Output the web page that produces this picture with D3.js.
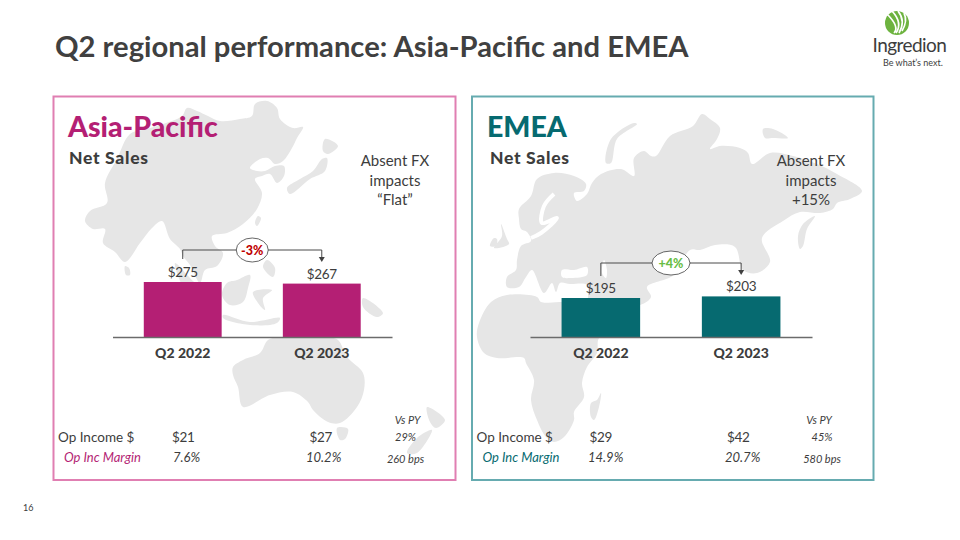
<!DOCTYPE html>
<html><head><meta charset="utf-8">
<script src="https://cdn.jsdelivr.net/npm/d3@7"></script>
<style>
html,body{margin:0;padding:0;background:#fff}
svg{display:block}
text{font-family:Lato,"Open Sans",sans-serif;fill:#3d3d3d}
</style></head><body>
<script>
// ---- data ----
const quarters = ["Q2 2022","Q2 2023"];
const apacSales = [275,267];
const emeaSales = [195,203];
const apacChange = "-3%";
const emeaChange = "+4%";
const apacFx = ["Absent FX","impacts","“Flat”"];
const emeaFx = ["Absent FX","impacts","+15%"];
const apacIncome = ["$21","$27","29%"];
const emeaIncome = ["$29","$42","45%"];
const apacMargin = ["7.6%","10.2%","260 bps"];
const emeaMargin = ["14.9%","20.7%","580 bps"];

// ---- decorative map outlines (background artwork, not data) ----
const apacLand = [
 [[105,183],[117,159],[130,134],[147,129],[163,124],[182,116],[187,108],[197,111],[208,116],[220,121],[240,119],[252,116],[255,104],[267,101],[277,108],[280,119],[293,128],[303,127],[297,138],[292,148],[283,161],[275,164],[268,158],[260,159],[250,168],[257,171],[265,171],[275,166],[284,166],[284,176],[277,183],[270,174],[262,176],[255,179],[262,193],[257,209],[243,224],[227,233],[212,236],[215,246],[223,253],[217,266],[205,270],[200,283],[190,265],[183,256],[180,249],[170,239],[162,221],[152,228],[140,243],[125,262],[115,252],[103,243],[105,229],[93,229],[85,221],[90,211],[107,203]],
 [[233,367],[243,360],[260,353],[268,340],[283,337],[325,337],[338,340],[347,357],[363,373],[364,390],[357,407],[340,423],[328,422],[313,410],[308,402],[293,392],[270,395],[243,407],[238,387],[233,375]],
 [[337,428],[348,429],[345,439],[340,440]],
 [[427,407],[445,420],[436,428],[430,422]],
 [[432,430],[417,453],[407,453],[417,438]],
 [[325,139],[338,146],[328,154],[323,151]],
 [[327,158],[325,171],[310,179],[290,194],[287,188],[300,179],[313,171],[322,159]],
 [[258,216],[261,218],[257,226],[255,223]],
 [[250,275],[248,288],[243,302],[230,305],[222,295],[227,283],[237,280]],
 [[253,292],[272,290],[263,298],[265,310],[258,303]],
 [[223,315],[250,322],[280,318],[277,323],[250,325],[223,318]],
 [[267,260],[275,268],[273,277],[263,267]],
 [[175,263],[190,278],[212,302],[205,305],[185,290]],
 [[363,298],[383,313],[377,317],[363,307]],
 [[125,266],[129,268],[130,275],[126,275]]
];
const emeaLand = [
 [[519,219],[519,209],[531,196],[537,179],[554,173],[574,176],[586,184],[584,191],[574,193],[577,201],[587,194],[592,183],[601,174],[621,169],[634,176],[634,158],[644,151],[651,156],[656,156],[670,136],[693,126],[702,114],[710,119],[720,128],[717,139],[710,149],[720,146],[740,148],[748,153],[752,164],[770,153],[793,156],[817,164],[837,174],[862,191],[850,199],[837,203],[833,209],[820,213],[800,212],[783,221],[762,238],[770,262],[757,273],[743,270],[735,247],[715,245],[700,250],[690,250],[674,275],[647,287],[651,297],[640,305],[590,305],[587,285],[570,284],[560,283],[556,292],[552,283],[544,293],[532,270],[526,277],[519,287],[507,287],[507,277],[516,270],[517,260],[521,246],[531,241],[527,232],[521,229]],
 [[477,337],[479,323],[491,302],[507,295],[537,297],[541,302],[561,302],[610,305],[620,325],[599,338],[597,353],[587,367],[582,383],[584,397],[574,412],[574,420],[564,437],[554,442],[546,437],[537,420],[531,400],[534,380],[526,363],[524,358],[497,358],[484,353]],
 [[601,393],[599,407],[594,420],[591,417],[591,403],[597,400]],
 [[501,224],[507,239],[509,244],[494,248],[502,236]],
 [[494,238],[497,239],[496,246],[490,246]],
 [[634,123],[637,124],[617,139],[611,163],[606,163],[611,139]],
 [[763,129],[773,129],[788,138],[773,138],[765,138]],
 [[815,216],[807,229],[803,246],[800,249],[798,236],[803,224]]
];
const emeaSeas = [
 [[562,270],[574,270],[587,267],[587,275],[571,278],[562,277]],
 [[604,260],[607,270],[606,278],[602,273]]
];
const emeaBaltic = [[554,194],[544,206],[542,223],[557,218],[541,233],[531,238]];

const W=960,H=540;
const svg=d3.select("body").append("svg").attr("width",W).attr("height",H);

// title
svg.append("text").attr("x",55).attr("y",57).attr("font-size",29.2).attr("font-weight",700)
 .style("fill","#404040").text("Q2 regional performance: Asia-Pacific and EMEA");

// page number
svg.append("text").attr("x",23).attr("y",511).attr("font-size",9).text("16");

// logo
const logo=svg.append("g").attr("transform","translate(897,23)");
logo.append("circle").attr("r",12).style("fill","#6db33f");
[[-10,-9,3,4,-3,10],[-5,-12,6,0,-1,10],[1,-12,9,-2,2,10],[7,-10,11,-2,5,8]].forEach(a=>{
 logo.append("path").attr("d",`M${a[0]},${a[1]}Q${a[2]},${a[3]} ${a[4]},${a[5]}`)
  .attr("fill","none").attr("stroke","#fff").attr("stroke-width",1.7);
});
svg.append("text").attr("x",872.5).attr("y",52).attr("font-size",19).attr("letter-spacing",-0.55).text("Ingredion");
svg.append("text").attr("x",883).attr("y",66).attr("font-size",9).text("Be what’s next.");

const line=d3.line().curve(d3.curveCatmullRomClosed.alpha(0.5));
const openLine=d3.line().curve(d3.curveCatmullRom.alpha(0.5));
const y=d3.scaleLinear().domain([0,300]).range([337,277]);

function panel(o){
 const g=svg.append("g");
 const clipId="clip"+o.id;
 svg.append("defs").append("clipPath").attr("id",clipId).append("rect")
  .attr("x",o.x0).attr("y",97).attr("width",o.x1-o.x0).attr("height",382);
 const map=g.append("g").attr("clip-path",`url(#${clipId})`);
 map.selectAll(".land").data(o.land).join("path").attr("class","land").attr("d",line).style("fill","#e6e6e6");
 map.selectAll(".sea").data(o.seas||[]).join("path").attr("class","sea").attr("d",line).style("fill","#fff");
 if(o.strait) map.append("path").attr("d",openLine(o.strait)).attr("fill","none").attr("stroke","#fff").attr("stroke-width",4);
 g.append("rect").attr("x",o.x0).attr("y",96.5).attr("width",o.x1-o.x0).attr("height",383.5)
  .attr("fill","none").attr("stroke",o.border).attr("stroke-width",2);

 g.append("text").attr("x",o.titleX).attr("y",137).attr("font-size",28.5).attr("font-weight",900)
  .style("fill",o.color).text(o.title);
 g.append("text").attr("x",o.titleX+(o.id==="a"?1:3)).attr("y",164).attr("font-size",17.5).attr("font-weight",900)
  .attr("letter-spacing",0.7).text("Net Sales");
 g.selectAll(".fx").data(o.fx).join("text").attr("class","fx").attr("x",o.fxX)
  .attr("y",(d,i)=>166+i*19.5).attr("text-anchor","middle").attr("font-size",15).text(d=>d);

 const x=d3.scaleBand().domain(quarters).range(o.axis).paddingInner(0.44).paddingOuter(0.225);
 g.selectAll(".bar").data(o.sales).join("rect").attr("class","bar")
  .attr("x",(d,i)=>x(quarters[i])).attr("width",x.bandwidth())
  .attr("y",d=>y(d)).attr("height",d=>y(0)-y(d)).style("fill",o.color);
 const ax=g.append("g").attr("transform",`translate(0,${y(0)})`)
  .call(d3.axisBottom(x).tickSize(0).tickPadding(11));
 ax.select(".domain").attr("stroke","#6b6b6b").attr("stroke-width",1.5);
 ax.selectAll("text").attr("font-size",14).attr("font-weight",900).attr("font-family","Lato").style("fill","#3d3d3d");

 g.selectAll(".val").data(o.sales).join("text").attr("class","val")
  .attr("x",(d,i)=>x(quarters[i])+x.bandwidth()/2).attr("y",d=>y(d)-5)
  .attr("text-anchor","middle").attr("font-size",13.5).attr("letter-spacing",-0.3).text(d=>"$"+d);

 // change connector
 const c0=x(quarters[0])+x.bandwidth()/2, c1=x(quarters[1])+x.bandwidth()/2;
 const ly=o.connY, mid=(c0+c1)/2;
 g.append("path").attr("d",`M${c0},${y(o.sales[0])-o.startGap}V${ly}H${c1}V${ly+7}`)
  .attr("fill","none").attr("stroke","#4a4a4a").attr("stroke-width",1);
 g.append("path").attr("d",`M${c1-3},${ly+7}H${c1+3}L${c1},${ly+12}Z`).style("fill","#404040");
 g.append("ellipse").attr("cx",mid).attr("cy",ly).attr("rx",o.rx).attr("ry",12)
  .attr("fill","#fff").attr("stroke","#404040").attr("stroke-width",0.8);
 g.append("text").attr("x",mid).attr("y",ly+4.5).attr("text-anchor","middle").attr("font-size",12.5)
  .attr("font-weight",900).style("fill",o.changeColor).text(o.change);

 // table
 g.append("text").attr("x",o.x0+4.5).attr("y",442).attr("font-size",13.5).text("Op Income $");
 g.append("text").attr("x",o.x0+10.5).attr("y",462).attr("font-size",13).attr("font-style","italic")
  .style("fill",o.color).text("Op Inc Margin");
 g.append("text").attr("x",o.vsX[0]).attr("y",424).attr("text-anchor","middle").attr("font-size",11)
  .attr("font-style","italic").text("Vs PY");
 o.income.forEach((d,i)=>{
  g.append("text").attr("x",i<2?o.incX[i]:o.vsX[1]).attr("y",i<2?442:441).attr("text-anchor",i<2?"start":"middle")
   .attr("font-size",i<2?13.5:11).attr("letter-spacing",i<2?-0.3:0).attr("font-style",i<2?"normal":"italic").text(d);
 });
 o.margin.forEach((d,i)=>{
  g.append("text").attr("x",i<2?o.marX[i]:o.vsX[2]).attr("y",i<2?462:463).attr("text-anchor",i<2?"start":"middle")
   .attr("font-size",i<2?13:11).attr("font-style","italic").text(d);
 });
}

panel({id:"a",x0:53.5,x1:455.5,land:apacLand,border:"#e07fb2",color:"#b41f74",title:"Asia-Pacific",titleX:68,
 fx:apacFx,fxX:395,axis:[112.5,392],sales:apacSales,connY:250,startGap:23,rx:16,change:apacChange,changeColor:"#c00000",
 income:apacIncome,margin:apacMargin,incX:[172,309.5],marX:[173,306],vsX:[407.5,405.5,405.5]});
panel({id:"e",x0:472,x1:873.5,land:emeaLand,seas:emeaSeas,strait:emeaBaltic,border:"#66abb0",color:"#066a70",title:"EMEA",titleX:487,
 fx:emeaFx,fxX:811,axis:[530,812],sales:emeaSales,connY:263,startGap:22,rx:19,change:emeaChange,changeColor:"#69bd45",
 income:emeaIncome,margin:emeaMargin,incX:[589.5,727],marX:[588,725],vsX:[819,822,822]});
</script>
</body></html>
